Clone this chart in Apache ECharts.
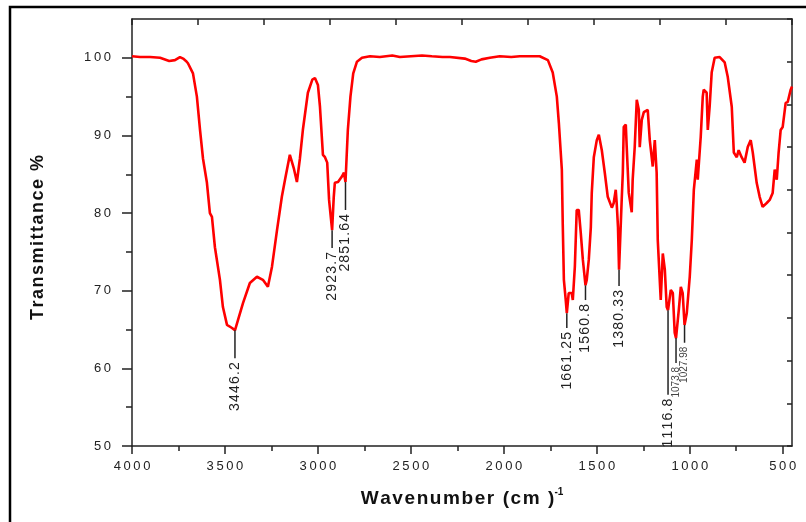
<!DOCTYPE html>
<html>
<head>
<meta charset="utf-8">
<script src="https://cdn.jsdelivr.net/npm/echarts@6/dist/echarts.min.js"></script>
<style>
html, body { margin: 0; padding: 0; background: #fff; }
#main { width: 806px; height: 522px; }
</style>
</head>
<body>
<div id="main"></div>
<script>
// 光谱数据（波数 / 透过率）
var wavenumber = [
	4000, 3957, 3903, 3849, 3800, 3769, 3742, 3725, 3710, 3699, 3672, 3651, 3634, 3618, 3597, 3581, 3570,
	3554, 3527, 3511, 3489, 3462, 3446.2, 3430, 3403, 3366, 3328, 3296, 3269, 3247, 3220, 3194, 3177,
	3151, 3130, 3113, 3097, 3081, 3054, 3030, 3016, 3000, 2989, 2973, 2962, 2950, 2940, 2923.7,
	2915, 2909, 2892, 2871, 2860, 2851.64, 2846, 2839, 2825, 2810, 2790, 2763,
	2720, 2667, 2600, 2559, 2500, 2440, 2387, 2330, 2290, 2210, 2175, 2151, 2120, 2075, 2022, 1960, 1914, 1860, 1807,
	1763, 1737, 1715, 1704, 1688, 1683, 1677, 1667, 1661.25, 1651, 1635, 1629, 1618, 1608, 1597, 1586, 1575,
	1560.8, 1554, 1543, 1532, 1527, 1516, 1500, 1489, 1473, 1457, 1441, 1419, 1409, 1398, 1393, 1386, 1380.33,
	1366, 1360, 1355, 1344, 1339, 1328, 1312, 1307, 1296, 1285, 1274, 1269, 1258, 1247, 1226, 1215, 1199,
	1188, 1178, 1172, 1156, 1145, 1134, 1124, 1116.8, 1102, 1091, 1081, 1073.8, 1059, 1048, 1038, 1027.98,
	1016, 1000, 989, 978, 962, 957, 941, 930, 925, 909, 903, 893, 882, 866, 839, 812, 796, 774, 763,
	747, 737, 721, 705, 688, 672, 661, 640, 624, 608, 586, 570, 554, 543, 532, 522, 511, 500, 484, 473, 457, 450
];
var transmittance = [
	100.2, 100.1, 100.1, 100.0, 99.6, 99.7, 100.1, 99.9, 99.6, 99.3, 98.0, 95.0, 90.7, 87.0, 83.9, 80.0, 79.5,
	75.6, 71.4, 67.9, 65.6, 65.2, 64.9, 66.2, 68.4, 71.0, 71.8, 71.4, 70.5, 73.1, 77.8, 82.1, 84.3,
	87.5, 85.8, 84.0, 87.0, 90.7, 95.5, 97.2, 97.4, 96.5, 93.7, 87.5, 87.2, 86.5, 81.7, 77.8,
	82.0, 83.9, 84.0, 84.7, 85.2, 84.0, 87.0, 90.7, 95.0, 98.0, 99.5, 100.0,
	100.2, 100.1, 100.3, 100.1, 100.2, 100.3, 100.2, 100.1, 100.1, 99.9, 99.6, 99.5, 99.8, 100.0, 100.2, 100.1, 100.2, 100.2, 100.2,
	99.7, 98.1, 95.0, 91.6, 85.6, 78.5, 71.4, 68.8, 67.1, 69.7, 69.7, 68.8, 73.1, 80.4, 80.4, 77.4, 74.0,
	70.7, 71.4, 74.0, 78.2, 82.6, 87.2, 89.4, 90.1, 88.1, 85.2, 82.1, 80.7, 81.3, 83.0, 81.3, 78.2, 72.7,
	81.7, 85.2, 91.1, 91.4, 88.5, 82.6, 80.1, 84.3, 88.5, 94.6, 93.3, 88.5, 92.0, 93.0, 93.3, 89.4, 86.0,
	89.4, 85.2, 76.5, 68.8, 74.8, 72.7, 67.9, 67.5, 70.1, 69.7, 64.6, 63.9, 67.5, 70.5, 69.7, 65.6,
	67.1, 71.8, 76.5, 83.0, 86.9, 84.3, 89.8, 95.0, 95.9, 95.5, 90.7, 93.7, 98.1, 100.0, 100.1, 99.4, 97.6, 93.7, 87.8,
	87.2, 88.1, 87.2, 86.5, 88.5, 89.4, 87.8, 83.9, 82.1, 80.8, 81.3, 81.7, 82.6, 85.6, 84.3, 87.8, 90.7, 91.1, 94.2, 94.3, 95.9, 96.3
];

// 峰位标注
var peakWave = [3446.2, 2923.7, 2851.64, 1661.25, 1560.8, 1380.33, 1116.8, 1073.8, 1027.98];
var peakText = ['3446.2', '2923.7', '2851.64', '1661.25', '1560.8', '1380.33', '1116.8', '1073.8', '1027.98'];
var peakValue = [64.9, 77.8, 84.0, 67.1, 70.7, 72.7, 67.5, 63.9, 65.6];
var leaderEnd = [61.3, 75.5, 80.4, 65.2, 68.8, 70.6, 56.6, 60.7, 63.3];

// 刻度
var xTicks = [500, 1000, 1500, 2000, 2500, 3000, 3500, 4000];
var xMinorTicks = [750, 1250, 1750, 2250, 2750, 3250, 3750];
var yTicks = [50, 60, 70, 80, 90, 100];
var yMinorTicks = [55, 65, 75, 85, 95];

var smallLabels = ['1073.8', '1027.98'];
var axisColor = '#222';

function spaced(s, sep) {
	return String(s).split('').join(sep || '\u2009');
}

var spectrum = [];
for (var i = 0; i < wavenumber.length; i++) {
	spectrum.push([wavenumber[i], transmittance[i]]);
}
var peaks = [];
for (var j = 0; j < peakWave.length; j++) {
	peaks.push([peakWave[j], peakValue[j], leaderEnd[j]]);
}

var myChart = echarts.init(document.getElementById('main'));
var option = {
	backgroundColor: '#fff',
	animation: false,
	textStyle: { fontFamily: 'Liberation Sans, Arial, sans-serif' },
	grid: { left: 132, right: 14, top: 19, bottom: 76 },
	graphic: [{
		type: 'rect',
		shape: { x: 10, y: 7, width: 1000, height: 1000 },
		style: { fill: 'none', stroke: '#000', lineWidth: 2.5 },
		silent: true
	}],
	xAxis: [{
		type: 'value',
		min: 450,
		max: 4000,
		inverse: true,
		position: 'bottom',
		axisLine: { show: true, lineStyle: { color: axisColor, width: 1.5 } },
		axisTick: { show: true, customValues: xTicks, length: 8, lineStyle: { color: axisColor, width: 1.5 } },
		axisLabel: {
			customValues: xTicks,
			margin: 14,
			color: '#222',
			fontSize: 13,
			formatter: function(v) { return spaced(v); }
		},
		splitLine: { show: false },
		name: '{a|' + spaced('Wavenumber (cm )', '\u200a') + '}{s|-1}',
		nameLocation: 'middle',
		nameGap: 41,
		nameTextStyle: {
			rich: {
				a: { fontSize: 19, fontWeight: 'bold', color: '#111', fontFamily: 'Liberation Sans, Arial' },
				s: { fontSize: 10, fontWeight: 'bold', color: '#111', verticalAlign: 'top', padding: [0, 0, 14, 0] }
			}
		}
	}, {
		type: 'value',
		min: 450,
		max: 4000,
		inverse: true,
		position: 'bottom',
		axisLine: { show: false },
		axisTick: { show: true, customValues: xMinorTicks, length: 5, lineStyle: { color: axisColor, width: 1.5 } },
		axisLabel: { show: false },
		splitLine: { show: false }
	}, {
		type: 'value',
		min: 0,
		max: 10,
		interval: 1,
		position: 'top',
		axisLine: { show: true, lineStyle: { color: axisColor, width: 1.5 } },
		axisTick: { show: true, inside: true, length: 6, lineStyle: { color: axisColor, width: 1.5 } },
		axisLabel: { show: false },
		splitLine: { show: false }
	}],
	yAxis: [{
		type: 'value',
		min: 50,
		max: 105,
		position: 'left',
		axisLine: { show: true, lineStyle: { color: axisColor, width: 1.5 } },
		axisTick: { show: true, customValues: yTicks, length: 10, lineStyle: { color: axisColor, width: 1.5 } },
		axisLabel: {
			customValues: yTicks,
			margin: 21,
			color: '#222',
			fontSize: 13,
			formatter: function(v) { return spaced(v); }
		},
		splitLine: { show: false },
		name: spaced('Transmittance %', '\u200a'),
		nameLocation: 'middle',
		nameGap: 85,
		nameTextStyle: { fontSize: 18, fontWeight: 'bold', color: '#111', padding: [0, 10, 0, 0] }
	}, {
		type: 'value',
		min: 50,
		max: 105,
		position: 'left',
		axisLine: { show: false },
		axisTick: { show: true, customValues: yMinorTicks, length: 6, lineStyle: { color: axisColor, width: 1.5 } },
		axisLabel: { show: false },
		splitLine: { show: false }
	}, {
		type: 'value',
		min: 0,
		max: 10,
		interval: 1,
		position: 'right',
		axisLine: { show: true, lineStyle: { color: axisColor, width: 1.5 } },
		axisTick: { show: true, inside: true, length: 5, lineStyle: { color: axisColor, width: 1.5 } },
		axisLabel: { show: false },
		splitLine: { show: false }
	}],
	series: [{
		type: 'line',
		xAxisIndex: 0,
		yAxisIndex: 0,
		data: spectrum,
		showSymbol: false,
		symbol: 'none',
		lineStyle: { color: '#ff0000', width: 2.6 },
		z: 3
	}, {
		type: 'custom',
		xAxisIndex: 0,
		yAxisIndex: 0,
		data: peaks,
		z: 4,
		renderItem: function(params, api) {
			var p1 = api.coord([api.value(0), api.value(1)]);
			var p2 = api.coord([api.value(0), api.value(2)]);
			var txt = peakText[params.dataIndex];
			var small = smallLabels.indexOf(txt) >= 0;
			return {
				type: 'group',
				children: [{
					type: 'line',
					shape: { x1: p1[0], y1: p1[1], x2: p2[0], y2: p2[1] },
					style: { stroke: '#222', lineWidth: 1.5 }
				}, {
					type: 'text',
					x: p2[0],
					y: p2[1] + 4,
					rotation: Math.PI / 2,
					style: {
						text: small ? txt : spaced(txt, '\u200a'),
						align: 'right',
						verticalAlign: 'middle',
						fontSize: small ? 10 : 14,
						fontFamily: 'Liberation Sans, Arial',
						fill: small ? '#444' : '#222'
					}
				}]
			};
		}
	}]
};
myChart.setOption(option);
</script>
</body>
</html>
